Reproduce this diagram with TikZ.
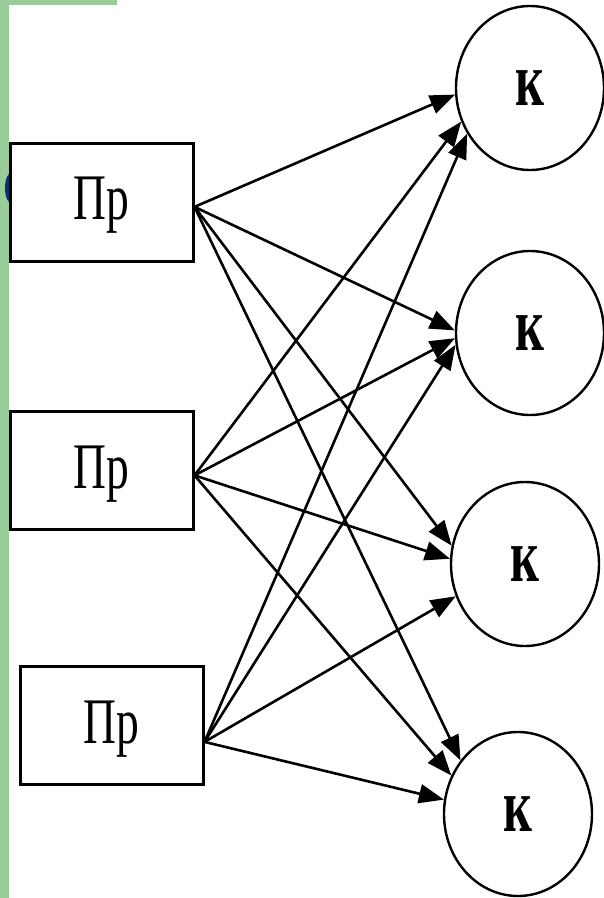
\documentclass[tikz,border=0pt]{standalone}
\usepackage{fontspec}
\setmainfont{Liberation Serif}
\newfontfamily\prfont{Liberation Serif}[FakeStretch=0.7]
\newfontfamily\kfont{Liberation Serif Bold}[FakeStretch=0.66]
\usetikzlibrary{arrows.meta,shapes.geometric}
\definecolor{slidegreen}{RGB}{153,204,153}
\definecolor{slideblue}{RGB}{10,50,110}

\begin{document}
\begin{tikzpicture}[x=1pt,y=-1pt,
	prbox/.style={draw,line width=3pt,fill=white,minimum width=183pt,minimum height=118pt,inner sep=0pt,font=\prfont\fontsize{65}{70}\selectfont,text depth=7pt},
	kcirc/.style={ellipse,draw,line width=2.4pt,fill=white,minimum width=148pt,minimum height=164pt,inner sep=0pt,font=\kfont\fontsize{76}{80}\selectfont},
	link/.style={line width=2.6pt,-{Triangle[length=25pt,width=19pt]}}]
			\useasboundingbox (0,0) rectangle (604,898);
			%slide frame
			\fill[slidegreen] (0,0) rectangle (9,898);
			\fill[slidegreen] (0,0) rectangle (117,5);
			\fill[slideblue] (11,188) ellipse [x radius=6pt, y radius=15pt];
			
			%left boxes
			\node[prbox] (pr1) at (101.5,202) {Пр};
			\node[prbox] (pr2) at (101.5,470.5) {Пр};
			\node[prbox] (pr3) at (111.5,725.5) {Пр};
			
			%right circles
			\node[kcirc] (k1) at (530,88) {к};
			\node[kcirc] (k2) at (530,333) {к};
			\node[kcirc] (k3) at (525,564) {к};
			\node[kcirc] (k4) at (518,814) {к};
			
			\foreach \s/\t in {pr1.357/k1.185, pr1.357/k2.178, pr1.357/k3.166, pr1.357/k4.137,
				pr2.357/k1.206, pr2.357/k2.184, pr2.357/k3.176, pr2.357/k4.150,
				pr3.350/k1.216, pr3.350/k2.189, pr3.350/k3.205, pr3.350/k4.169}{
				\draw[link] (\s) -- (\t);
			}
		\end{tikzpicture}
\end{document}
